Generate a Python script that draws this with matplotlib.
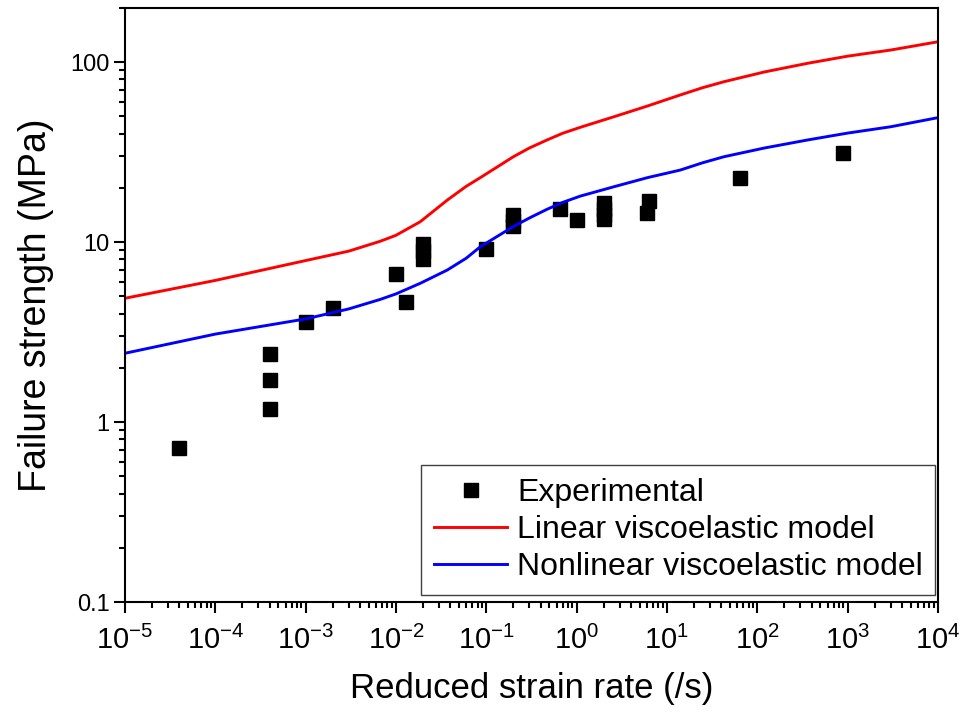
import matplotlib
matplotlib.use('Agg')
import matplotlib.pyplot as plt
from matplotlib.ticker import LogLocator, FuncFormatter, NullFormatter

matplotlib.rc('font', family='Liberation Sans')
matplotlib.rc('mathtext', fontset='custom', rm='Liberation Sans', it='Liberation Sans')

# measured failure strength vs reduced strain rate
exp_rate = [4e-5, 4e-4, 4e-4, 4e-4, 1e-3, 2e-3, 1e-2, 1.3e-2, 2e-2, 2e-2, 2e-2,
            0.1, 0.2, 0.2, 0.2, 0.65, 1.0, 2, 2, 2, 2, 6, 6.4, 64, 890]
exp_strength = [0.72, 2.39, 1.71, 1.18, 3.58, 4.3, 6.67, 4.66, 9.75, 8.9, 8.05,
                9.15, 14.1, 13.1, 12.3, 15.2, 13.25, 16.5, 15.2, 14.1, 13.4, 14.5, 16.9, 22.8, 31.2]

# model predictions
model_rate = [1e-5, 1e-4, 1e-3, 3e-3, 6.7e-3, 1e-2, 1.86e-2, 3.7e-2, 6e-2, 8.6e-2,
              0.2, 0.3, 0.47, 0.7, 1.1, 2.6, 6.1, 14, 25, 43, 120, 360, 1000, 3000, 1e4]
linear_strength = [4.87, 6.12, 7.89, 8.9, 10.1, 10.9, 12.97, 17.1, 20.4, 22.8,
                   29.8, 33.3, 36.9, 40.2, 43.4, 49.7, 57.0, 65.6, 72.1, 77.8,
                   88.1, 98.4, 107.8, 116.6, 129.6]
nonlinear_strength = [2.41, 3.08, 3.74, 4.25, 4.8, 5.15, 5.9, 6.99, 8.13, 9.42,
                      12.2, 13.6, 15.2, 16.6, 18.0, 20.3, 22.8, 25.1, 27.6, 29.8,
                      33.3, 36.9, 40.3, 43.7, 49.1]

fig = plt.figure(figsize=(9.61, 7.15), dpi=100)
ax = fig.add_axes([0.130, 0.158, 0.846, 0.831])

ax.plot(exp_rate, exp_strength, 's', color='black', ms=9.5, label='Experimental')
ax.plot(model_rate, linear_strength, '-', color='#ff0000', lw=2.1, label='Linear viscoelastic model')
ax.plot(model_rate, nonlinear_strength, '-', color='#0000ff', lw=2.1, label='Nonlinear viscoelastic model')

ax.set_xscale('log')
ax.set_yscale('log')
ax.set_xlim(1e-5, 1e4)
ax.set_ylim(0.1, 200)

ax.xaxis.set_major_locator(LogLocator(base=10, numticks=20))
ax.xaxis.set_minor_locator(LogLocator(base=10, subs=range(2, 10), numticks=20))
ax.xaxis.set_minor_formatter(NullFormatter())
ax.yaxis.set_major_locator(LogLocator(base=10, numticks=20))
ax.yaxis.set_minor_locator(LogLocator(base=10, subs=range(2, 10), numticks=20))
ax.yaxis.set_minor_formatter(NullFormatter())
ax.yaxis.set_major_formatter(FuncFormatter(lambda v, p: '%g' % v))

for s in ax.spines.values():
    s.set_linewidth(1.5)
ax.tick_params(which='major', direction='out', length=8, width=1.5, top=False, right=False)
ax.tick_params(which='minor', direction='out', length=4.5, width=1.5, top=False, right=False)
ax.tick_params(axis='x', which='major', labelsize=21, pad=9)
ax.tick_params(axis='y', which='major', labelsize=17, pad=3)

ax.set_xlabel('Reduced strain rate (/s)', fontsize=25, labelpad=12)
ax.set_ylabel('Failure strength (MPa)', fontsize=27, labelpad=12)

leg = ax.legend(loc='lower right', bbox_to_anchor=(0.997, 0.012), fontsize=23,
                fancybox=False, edgecolor='#404040', framealpha=1,
                handlelength=2.3, handletextpad=0.3, labelspacing=0.22,
                borderpad=0.4, borderaxespad=0)
leg.get_frame().set_linewidth(1)

fig.savefig('out.png', dpi=100)
